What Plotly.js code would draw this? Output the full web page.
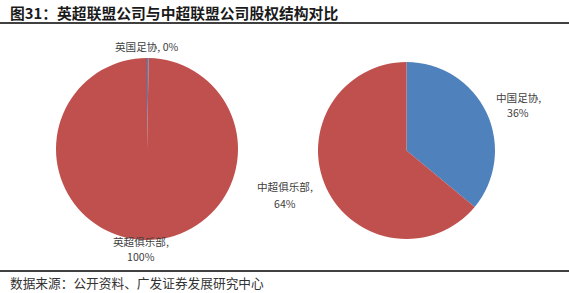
<!DOCTYPE html>
<html>
<head>
<meta charset="utf-8">
<script src="https://cdn.plot.ly/plotly-3.0.1.min.js"></script>
<style>html,body{margin:0;padding:0;background:#fff;}#chart{width:569px;height:293px;}</style>
</head>
<body>
<div id="chart"></div>
<script>
// Data
var titleText = "图31：英超联盟公司与中超联盟公司股权结构对比";
var sourceText = "数据来源：公开资料、广发证券发展研究中心";
var eplLabels = ["英国足协", "英超俱乐部"];
var eplValues = [0.3, 99.7];
var eplShown = ["0%", "100%"];
var cslLabels = ["中国足协", "中超俱乐部"];
var cslValues = [36, 64];
var cslShown = ["36%", "64%"];
var sliceColors = ["#4F81BD", "#C0504D"];

var W = 569, H = 293;
function dom(cx, cy, r) {
  return {x: [(cx - r) / W, (cx + r) / W], y: [(H - cy - r) / H, (H - cy + r) / H]};
}

var traces = [
  {type: "pie", labels: eplLabels, values: eplValues, sort: false, direction: "clockwise", rotation: 0,
   marker: {colors: sliceColors, line: {width: 0}}, textinfo: "none", hoverinfo: "none",
   domain: dom(147, 149, 91), showlegend: false},
  {type: "pie", labels: cslLabels, values: cslValues, sort: false, direction: "clockwise", rotation: 0,
   marker: {colors: sliceColors, line: {width: 0}}, textinfo: "none", hoverinfo: "none",
   domain: dom(406.5, 150.5, 88.5), showlegend: false}
];

var labFont = {family: "Noto Sans CJK SC, Liberation Sans, sans-serif", size: 10.6, color: "#404040"};
function px(x) { return x / W; }
function py(y) { return (H - y) / H; }
function lab(text, x, y) {
  return {text: text, x: px(x), y: py(y), xref: "paper", yref: "paper", xanchor: "center", yanchor: "middle",
          showarrow: false, font: labFont};
}

var annotations = [
  {text: "<b>" + titleText + "</b>", x: px(8), y: py(12), xref: "paper", yref: "paper", xanchor: "left", yanchor: "middle",
   showarrow: false, font: {family: "Noto Sans CJK SC, sans-serif", size: 14.8, color: "#1a1a1a"}},
  {text: sourceText, x: px(8), y: py(282), xref: "paper", yref: "paper", xanchor: "left", yanchor: "middle",
   showarrow: false, font: {family: "Noto Sans CJK SC, sans-serif", size: 12.7, color: "#333333"}},
  lab(eplLabels[0] + ", " + eplShown[0], 147, 46),
  lab(eplLabels[1] + ",", 141, 241),
  lab(eplShown[1], 141, 256),
  lab(cslLabels[0] + ",", 518, 97),
  lab(cslShown[0], 518, 112),
  lab(cslLabels[1] + ",", 285, 187),
  lab(cslShown[1], 285, 203)
];

var layout = {
  width: W, height: H,
  margin: {l: 0, r: 0, t: 0, b: 0},
  paper_bgcolor: "#ffffff",
  showlegend: false,
  annotations: annotations,
  shapes: [
    {type: "line", xref: "paper", yref: "paper", x0: 0, x1: 1, y0: py(23), y1: py(23), line: {color: "#000000", width: 1.5}},
    {type: "line", xref: "paper", yref: "paper", x0: 0, x1: 1, y0: py(271), y1: py(271), line: {color: "#000000", width: 1.5}}
  ]
};

Plotly.newPlot("chart", traces, layout, {staticPlot: true, displayModeBar: false});
</script>
</body>
</html>
